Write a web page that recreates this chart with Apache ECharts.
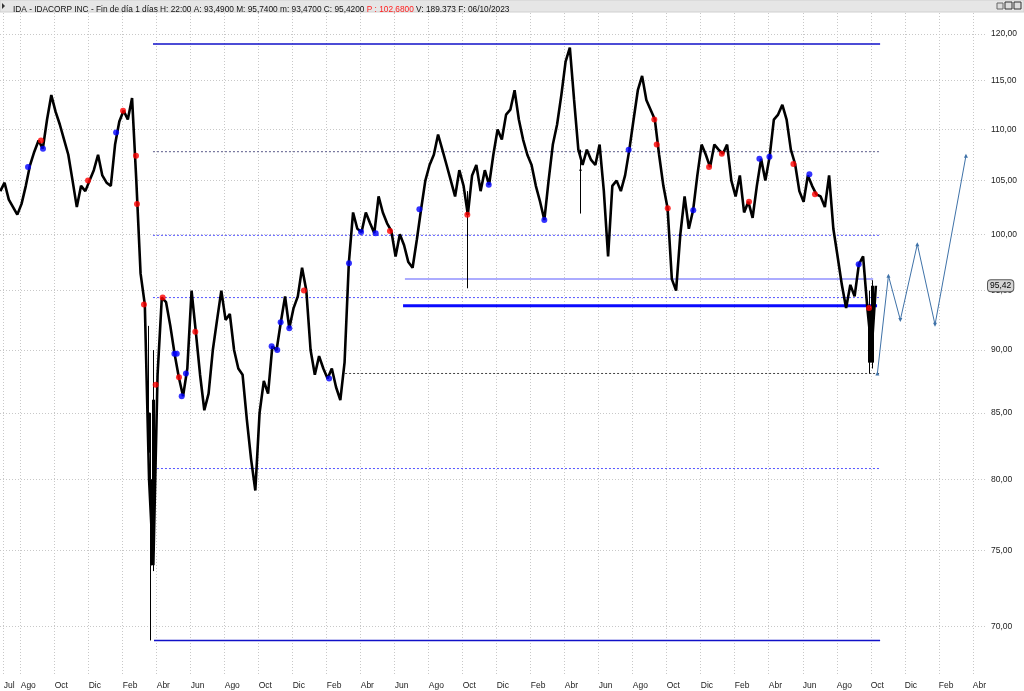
<!DOCTYPE html>
<html>
<head>
<meta charset="utf-8">
<script src="https://cdn.jsdelivr.net/npm/echarts@6/dist/echarts.min.js"></script>
<style>
  html, body { margin: 0; padding: 0; background: #fff; }
  #chart { width: 1024px; height: 691px; }
</style>
</head>
<body>
<div id="chart"></div>
<script>
// x = months since 1 Aug 2019 (weekly closes from early Jul 2019)
const closeStart = -1.2;
const closeStep = 0.25;
const closes = [
  104.0, 104.8, 103.2, 102.5, 101.8, 102.8, 104.5, 106.5, 107.8, 108.9,
  108.1, 111.0, 113.5, 111.8, 110.5, 109.0, 107.5, 105.0, 102.5, 104.5,
  104.0, 105.0, 106.0, 107.5, 105.5, 104.8, 104.5, 108.5, 110.8, 111.9,
  111.0, 113.2, 105.0, 96.5, 93.8, 80.0, 74.0, 88.0, 94.4, 94.0,
  92.0, 89.7, 87.8, 86.3, 88.5, 95.0, 91.5, 88.0, 85.2, 86.5,
  90.0, 92.5, 95.0, 92.5, 93.0, 90.0, 88.5, 88.0, 84.5, 81.5,
  79.2, 85.0, 87.5, 86.5, 90.3, 90.0, 92.3, 94.5, 91.8, 93.5,
  94.5, 97.0, 95.0, 90.0, 88.0, 89.5, 88.5, 87.7, 88.5, 87.0,
  86.0, 89.0, 97.4, 102.0, 100.5, 100.2, 102.0, 101.0, 100.1, 103.5,
  102.0, 101.0, 100.3, 98.0, 100.0, 99.0, 97.5, 97.0, 99.5, 102.3,
  105.0, 106.5, 107.5, 109.5, 108.0, 106.5, 105.0, 103.5, 106.0, 104.5,
  101.8, 105.5, 106.5, 104.0, 106.0, 104.6, 107.5, 110.0, 109.0, 111.5,
  112.0, 114.0, 111.0, 109.0, 107.5, 106.5, 104.5, 103.0, 101.3, 105.0,
  108.5, 110.5, 113.5, 117.0, 118.5, 113.0, 108.0, 106.5, 108.0, 107.0,
  106.5, 108.5, 104.0, 98.0, 104.5, 105.0, 104.0, 105.5, 108.0, 111.0,
  114.0, 115.5, 113.0, 112.0, 111.0, 107.5, 104.5, 102.4, 96.0, 95.0,
  100.0, 103.5, 100.5, 102.2, 105.5, 108.5, 107.5, 106.3, 108.5, 108.0,
  107.6, 108.5, 105.0, 103.5, 105.5, 102.0, 103.0, 101.5, 104.5, 107.1,
  105.0, 107.3, 111.0, 111.5, 112.5, 111.0, 108.0, 106.6, 104.0, 103.0,
  105.5, 104.5, 103.7, 103.5, 102.5, 105.5, 100.5, 98.0, 95.5, 93.5,
  95.5, 94.5, 97.3, 98.0, 93.5, 90.0, 95.42
];

// long wicks: [month, open, close, low, high]
const wicks = [
  [7.55, 85.0, 82.0, 80.5, 92.0],
  [7.67, 80.0, 74.0, 69.1, 85.0],
  [7.80, 75.0, 86.0, 73.6, 90.0],
  [26.27, 103.0, 101.8, 95.2, 104.0],
  [32.94, 106.0, 106.0, 101.9, 108.0],
  [49.92, 93.5, 89.0, 88.1, 95.0],
  [50.10, 89.0, 95.4, 88.5, 95.9]
];

const redMonths = [1.19, 3.96, 6.02, 6.78, 6.84, 7.25, 7.94, 8.35, 9.31, 10.27, 16.66, 21.72, 26.27, 37.27, 37.41, 38.06, 40.49, 41.24, 42.84, 45.45, 46.72, 49.9];
const redPrices = [108.9, 105.0, 111.9, 107.4, 102.8, 93.8, 87.2, 94.4, 87.8, 91.5, 95.0, 100.3, 101.8, 111.0, 108.5, 102.4, 106.3, 107.6, 103.0, 106.6, 103.7, 93.5];
const blueMonths = [0.43, 1.31, 5.61, 9.04, 9.18, 9.47, 9.72, 14.76, 15.09, 15.29, 15.8, 18.14, 19.31, 20.02, 20.88, 23.45, 27.53, 30.8, 35.76, 39.56, 43.45, 44.04, 46.39, 49.29];
const bluePrices = [106.3, 108.1, 109.7, 89.7, 89.7, 86.3, 88.1, 90.3, 90.0, 92.3, 91.8, 87.7, 97.4, 100.2, 100.1, 102.3, 104.6, 101.3, 108.0, 102.2, 107.1, 107.3, 105.6, 97.3];

const projMonths = [50.39, 51.04, 51.74, 52.74, 53.78, 55.6];
const projPrices = [88.1, 96.3, 92.5, 99.1, 92.1, 107.4];

const levelPrices = [118.9, 69.1, 107.8, 99.9, 94.4, 80.8, 88.1, 96.0, 93.7];
const levelFrom   = [7.78, 7.84, 7.78, 7.78, 7.78, 7.78, 19.08, 22.6, 22.49];
const levelTo     = [50.55, 50.55, 50.55, 50.55, 50.55, 50.55, 50.55, 50.14, 50.37];

const xTickMonths = [-1, 0, 2, 4, 6, 8, 10, 12, 14, 16, 18, 20, 22, 24, 26, 28, 30, 32, 34, 36, 38, 40, 42, 44, 46, 48, 50, 52, 54, 56];
const xTickLabels = ['Jul', 'Ago', 'Oct', 'Dic', 'Feb', 'Abr', 'Jun', 'Ago', 'Oct', 'Dic', 'Feb', 'Abr', 'Jun', 'Ago', 'Oct', 'Dic', 'Feb', 'Abr', 'Jun', 'Ago', 'Oct', 'Dic', 'Feb', 'Abr', 'Jun', 'Ago', 'Oct', 'Dic', 'Feb', 'Abr'];
const yTicks = [70, 75, 80, 85, 90, 95, 100, 105, 110, 115, 120];
const lastClose = 95.42;

const FONT = 'Liberation Sans, Arial, sans-serif';
const levelStyles = [
  { color: '#1010c8', width: 1.6, type: 'solid' },
  { color: '#1010c8', width: 1.6, type: 'solid' },
  { color: '#5a5a8a', width: 1, type: [2, 2] },
  { color: '#5555ff', width: 1, type: [2, 2] },
  { color: '#5555ff', width: 1, type: [2, 2] },
  { color: '#5555ff', width: 1, type: [2, 2] },
  { color: '#444444', width: 1, type: [2, 2] },
  { color: '#9090ff', width: 1.5, type: 'solid' },
  { color: '#0a0aff', width: 3, type: 'solid' }
];

let chart = echarts.init(document.getElementById('chart'));

let series = [];
levelPrices.forEach((p, i) => {
  series.push({
    type: 'line',
    data: [[levelFrom[i], p], [levelTo[i], p]],
    symbol: 'none',
    silent: true,
    lineStyle: levelStyles[i],
    z: 2
  });
});
series.push({
  name: 'IDA',
  type: 'line',
  data: closes.map((c, i) => [closeStart + closeStep * i, c]),
  symbol: 'none',
  lineStyle: { color: '#000', width: 2.6, join: 'bevel' },
  z: 4
});
series.push({
  type: 'candlestick',
  data: wicks.map(w => [w[0], w[1], w[2], w[3], w[4]]),
  encode: { x: 0, y: [1, 2, 3, 4] },
  barWidth: 2,
  itemStyle: { color: '#000', color0: '#000', borderColor: '#000', borderColor0: '#000', borderWidth: 1 },
  z: 4
});
series.push({
  type: 'scatter',
  data: redMonths.map((m, i) => [m, redPrices[i]]),
  symbolSize: 6,
  itemStyle: { color: '#ff0000' },
  z: 6
});
series.push({
  type: 'scatter',
  data: blueMonths.map((m, i) => [m, bluePrices[i]]),
  symbolSize: 6,
  itemStyle: { color: '#0000ff' },
  z: 6
});
series.push({
  type: 'line',
  data: projMonths.map((m, i) => ({
    value: [m, projPrices[i]],
    symbolRotate: i > 0 && projPrices[i] < projPrices[i - 1] ? 180 : 0
  })),
  symbol: 'triangle',
  symbolSize: 4,
  showSymbol: true,
  itemStyle: { color: '#3f72a8' },
  lineStyle: { color: '#3f72a8', width: 1 },
  z: 5
});

chart.setOption({
  animation: false,
  backgroundColor: '#fff',
  textStyle: { fontFamily: FONT },
  title: {
    left: 8,
    top: 1,
    text: '{a|IDA - IDACORP INC - Fin de día 1 días H: 22:00 A: 93,4900 M: 95,7400 m: 93,4700 C: 95,4200 }{r|P : 102,6800}{a| V: 189.373 F: 06/10/2023}',
    textStyle: {
      fontWeight: 'normal',
      rich: {
        a: { fontSize: 8.3, color: '#111', fontFamily: FONT, fontWeight: 'normal' },
        r: { fontSize: 8.3, color: '#ff2020', fontFamily: FONT, fontWeight: 'normal' }
      }
    }
  },
  graphic: [
    { type: 'rect', shape: { x: 0, y: 0, width: 1024, height: 12 }, style: { fill: '#e6e6e6', stroke: '#d0d0d0' }, z: -1 },
    { type: 'polygon', shape: { points: [[2, 3], [5, 6], [2, 9]] }, style: { fill: '#333' } },
    { type: 'rect', shape: { x: 997, y: 3, width: 6, height: 6 }, style: { fill: '#ddd', stroke: '#666' } },
    { type: 'rect', shape: { x: 1005, y: 2, width: 7, height: 7 }, style: { fill: '#ddd', stroke: '#333' } },
    { type: 'rect', shape: { x: 1014, y: 2, width: 7, height: 7 }, style: { fill: '#ddd', stroke: '#333' } }
  ],
  grid: { left: 0, right: 39, top: 13, bottom: 15 },
  xAxis: {
    type: 'value',
    min: -1.218,
    max: 56.72,
    axisLine: { show: false },
    axisTick: { show: false, customValues: xTickMonths },
    axisLabel: {
      customValues: xTickMonths,
      formatter: v => xTickLabels[xTickMonths.indexOf(v)] || '',
      align: 'left',
      fontSize: 8.5,
      color: '#222',
      margin: 5
    },
    splitLine: { show: true, lineStyle: { color: '#c8c8c8', type: [1, 2], width: 1 } }
  },
  yAxis: {
    type: 'log',
    min: 66.9,
    max: 122.3,
    position: 'right',
    axisLine: { show: false },
    axisTick: { show: false, customValues: yTicks },
    axisLabel: {
      customValues: yTicks,
      formatter: v => v.toFixed(2).replace('.', ','),
      fontSize: 8.5,
      color: '#222',
      margin: 6
    },
    splitLine: { show: true, lineStyle: { color: '#c8c8c8', type: [1, 2], width: 1 } },
    axisPointer: {
      show: true,
      value: lastClose,
      status: 'show',
      triggerTooltip: false,
      lineStyle: { opacity: 0 },
      label: {
        show: true,
        formatter: p => p.value.toFixed(2).replace('.', ','),
        backgroundColor: '#d4d4d4',
        borderColor: '#555',
        borderWidth: 1,
        color: '#000',
        fontSize: 8.5,
        padding: [1, 2]
      }
    }
  },
  axisPointer: { triggerOn: 'none' },
  series: series
});
</script>
</body>
</html>
